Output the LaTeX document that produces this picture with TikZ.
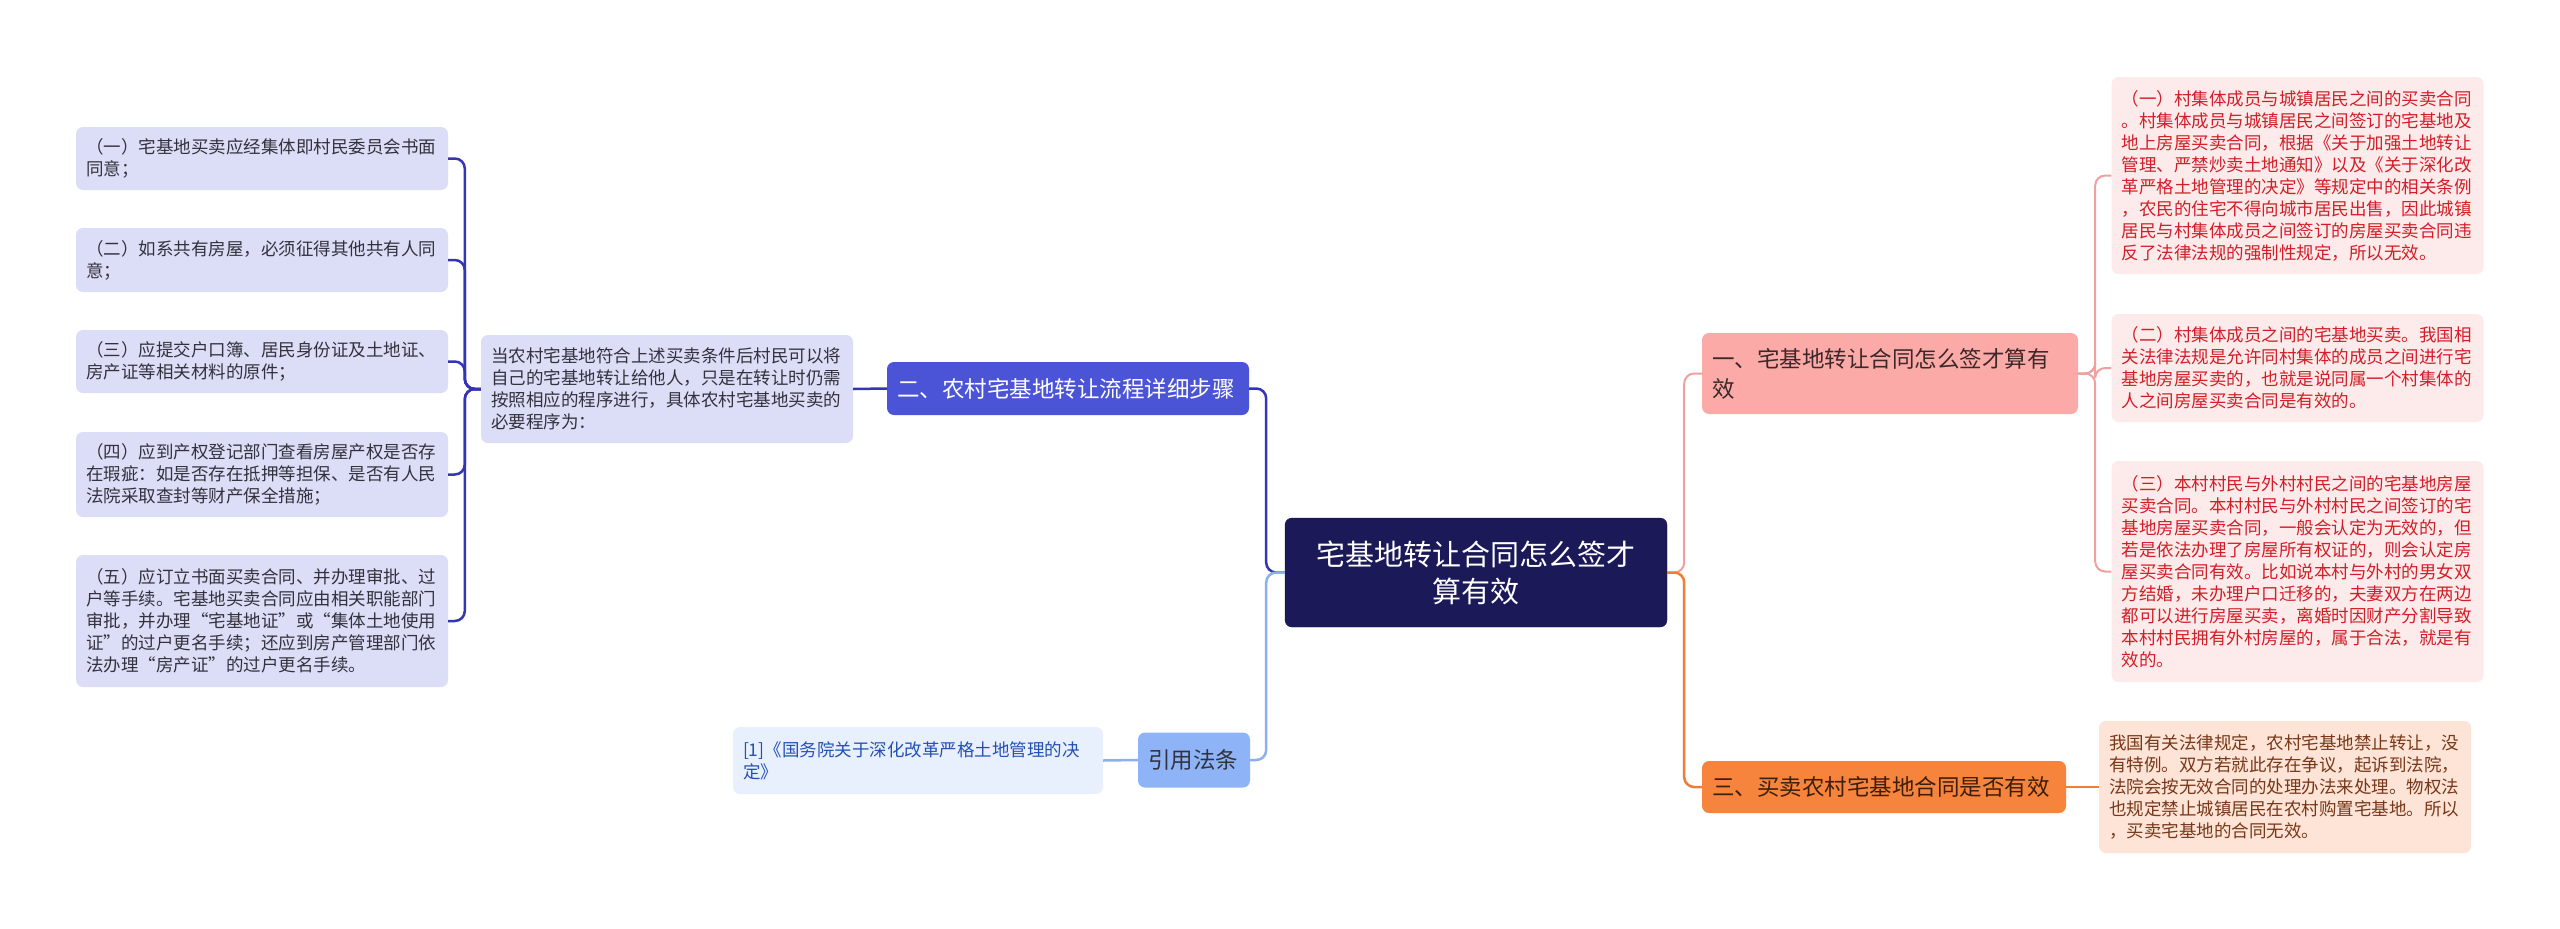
\documentclass[tikz,border=0pt]{standalone}
\usepackage{fontspec}
\newfontfamily\cjk{Noto Sans CJK SC}
\usepackage{tikz}
\usepackage{xcolor}
\definecolor{rootfill}{RGB}{27,25,88}
\definecolor{rootline}{RGB}{20,18,70}
\definecolor{stepsfill}{RGB}{75,84,214}
\definecolor{leaffill}{RGB}{220,221,246}
\definecolor{leaftext}{RGB}{50,50,62}
\definecolor{linkblue}{RGB}{52,52,180}
\definecolor{citefill}{RGB}{142,180,247}
\definecolor{citelink}{RGB}{140,175,240}
\definecolor{reffill}{RGB}{232,240,253}
\definecolor{reftext}{RGB}{35,80,180}
\definecolor{signfill}{RGB}{252,170,168}
\definecolor{signtext}{RGB}{60,40,40}
\definecolor{pinklink}{RGB}{240,160,160}
\definecolor{casefill}{RGB}{253,234,234}
\definecolor{casetext}{RGB}{210,30,40}
\definecolor{validfill}{RGB}{247,132,60}
\definecolor{validtext}{RGB}{60,30,10}
\definecolor{orangelink}{RGB}{240,125,55}
\definecolor{banfill}{RGB}{253,228,214}
\definecolor{bantext}{RGB}{120,55,25}

\begin{document}
\begin{tikzpicture}[
    x=1pt, y=-1pt,
    every node/.style={font=\cjk, rounded corners=7pt, inner xsep=10pt,
                       inner ysep=0pt, align=left},
    rootbox/.style={fill=rootfill, draw=rootline, text=white, align=center,
                    text width=362pt, minimum height=109pt,
                    font=\cjk\fontsize{29}{37}\selectfont},
    topicbox/.style={font=\cjk\fontsize{22.5}{30}\selectfont},
    leafbox/.style={text width=352pt, font=\cjk\fontsize{17.5}{22}\selectfont},
    stepitem/.style={leafbox, fill=leaffill, text=leaftext},
    caseitem/.style={leafbox, fill=casefill, text=casetext},
    bluelink/.style={draw=linkblue, line width=2.5pt, rounded corners=10pt},
    citeline/.style={draw=citelink, line width=2.5pt, rounded corners=10pt},
    pinkline/.style={draw=pinklink, line width=2pt, rounded corners=10pt},
    orangeline/.style={draw=orangelink, line width=2.5pt, rounded corners=10pt},
]
\fill[white] (0,0) rectangle (2560,929);
\useasboundingbox (0,0) rectangle (2560,929);

\node[rootbox] (root) at (1476,572.5) {宅基地转让合同怎么签才\\算有效};

% left side
\node[topicbox, fill=stepsfill, text=white, text width=342pt, minimum height=53pt]
    (steps) at (1068,388.5) {二、农村宅基地转让流程详细步骤};
\node[stepitem, minimum height=108pt] (intro) at (667,389)
    {当农村宅基地符合上述买卖条件后村民可以将\\自己的宅基地转让给他人，只是在转让时仍需\\按照相应的程序进行，具体农村宅基地买卖的\\必要程序为：};
\node[stepitem, minimum height=63pt] (s1) at (262,158.5)
    {（一）宅基地买卖应经集体即村民委员会书面\\同意；};
\node[stepitem, minimum height=64pt] (s2) at (262,260)
    {（二）如系共有房屋，必须征得其他共有人同\\意；};
\node[stepitem, minimum height=63pt] (s3) at (262,361.5)
    {（三）应提交户口簿、居民身份证及土地证、\\房产证等相关材料的原件；};
\node[stepitem, minimum height=85pt] (s4) at (262,474.5)
    {（四）应到产权登记部门查看房屋产权是否存\\在瑕疵：如是否存在抵押等担保、是否有人民\\法院采取查封等财产保全措施；};
\node[stepitem, minimum height=132pt] (s5) at (262,621)
    {（五）应订立书面买卖合同、并办理审批、过\\户等手续。宅基地买卖合同应由相关职能部门\\审批，并办理“宅基地证”或“集体土地使用\\证”的过户更名手续；还应到房产管理部门依\\法办理“房产证”的过户更名手续。};

\node[topicbox, fill=citefill, text=leaftext, text width=92pt, minimum height=55pt]
    (cite) at (1194,760) {引用法条};
\node[leafbox, fill=reffill, text=reftext, text width=350pt, minimum height=67pt]
    (ref) at (918,760.5) {[1]《国务院关于深化改革严格土地管理的决\\定》};

% right side
\node[topicbox, fill=signfill, text=signtext, text width=356pt, minimum height=81pt]
    (sign) at (1890,373.5) {一、宅基地转让合同怎么签才算有\\效};
\node[caseitem, minimum height=197pt] (c1) at (2297.5,175.5)
    {（一）村集体成员与城镇居民之间的买卖合同\\。村集体成员与城镇居民之间签订的宅基地及\\地上房屋买卖合同，根据《关于加强土地转让\\管理、严禁炒卖土地通知》以及《关于深化改\\革严格土地管理的决定》等规定中的相关条例\\，农民的住宅不得向城市居民出售，因此城镇\\居民与村集体成员之间签订的房屋买卖合同违\\反了法律法规的强制性规定，所以无效。};
\node[caseitem, minimum height=108pt] (c2) at (2297.5,368)
    {（二）村集体成员之间的宅基地买卖。我国相\\关法律法规是允许同村集体的成员之间进行宅\\基地房屋买卖的，也就是说同属一个村集体的\\人之间房屋买卖合同是有效的。};
\node[caseitem, minimum height=221pt] (c3) at (2297.5,571.5)
    {（三）本村村民与外村村民之间的宅基地房屋\\买卖合同。本村村民与外村村民之间签订的宅\\基地房屋买卖合同，一般会认定为无效的，但\\若是依法办理了房屋所有权证的，则会认定房\\屋买卖合同有效。比如说本村与外村的男女双\\方结婚，未办理户口迁移的，夫妻双方在两边\\都可以进行房屋买卖，离婚时因财产分割导致\\本村村民拥有外村房屋的，属于合法，就是有\\效的。};

\node[topicbox, fill=validfill, text=validtext, text width=344pt, minimum height=52pt]
    (valid) at (1884,787) {三、买卖农村宅基地合同是否有效};
\node[leafbox, fill=banfill, text=bantext, minimum height=132pt] (ban) at (2285,787)
    {我国有关法律规定，农村宅基地禁止转让，没\\有特例。双方若就此存在争议，起诉到法院，\\法院会按无效合同的处理办法来处理。物权法\\也规定禁止城镇居民在农村购置宅基地。所以\\，买卖宅基地的合同无效。};

% connectors
\draw[bluelink] (steps.east) -- ++(17,0) |- (root.west);
\draw[citeline] (cite.east) -- ++(16,0) |- (root.west);
\draw[citeline] (ref.east) -- (cite.west);
\draw[bluelink] (intro.east) -- (steps.west);
\foreach \s in {s1,s2,s3,s4,s5}
    \draw[bluelink] (intro.west) -- ++(-16,0) |- (\s.east);
\draw[pinkline] (root.east) -- ++(17,0) |- (sign.west);
\draw[orangeline] (root.east) -- ++(17,0) |- (valid.west);
\foreach \c in {c1,c2,c3}
    \draw[pinkline] (sign.east) -- ++(17,0) |- (\c.west);
\draw[orangeline] (valid.east) -- (ban.west);
\end{tikzpicture}
\end{document}
